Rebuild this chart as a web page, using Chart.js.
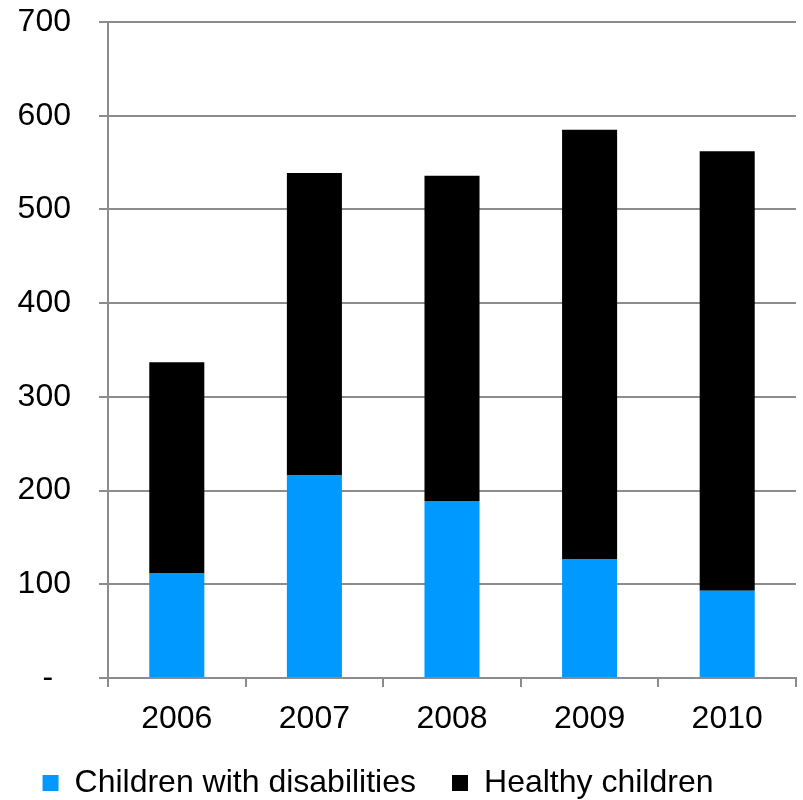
<!DOCTYPE html>
<html>
<head>
<meta charset="utf-8">
<script src="https://cdn.jsdelivr.net/npm/chart.js@4"></script>
<style>
  html, body { margin: 0; padding: 0; background: #fff; }
</style>
</head>
<body>
<canvas id="grafico" width="803" height="800"></canvas>
<script>
// Datos
const years = ['2006', '2007', '2008', '2009', '2010'];
const disabled = [112, 216, 189, 127, 93];
const healthy = [225, 323, 347, 458, 469];
const yTicks = [0, 100, 200, 300, 400, 500, 600, 700];

const gris = '#8c8c8c';
Chart.defaults.font.family = '"Liberation Sans", Arial, sans-serif';
Chart.defaults.font.size = 32;
Chart.defaults.color = '#000';

new Chart(document.getElementById('grafico'), {
    type: 'bar',
    data: {
        labels: years,
        datasets: [
            { label: 'Children with disabilities', data: disabled, backgroundColor: '#0099ff' },
            { label: 'Healthy children', data: healthy, backgroundColor: '#000000' }
        ]
    },
    options: {
        responsive: false,
        animation: false,
        categoryPercentage: 1,
        barPercentage: 0.4,
        // margen izquierdo negativo para correr la leyenda como en el original
        layout: { padding: { top: 22, right: 7, left: -40, bottom: -9 } },
        plugins: {
            legend: {
                position: 'bottom',
                labels: {
                    boxWidth: 16,
                    boxHeight: 16,
                    padding: 36,
                    font: { size: 32, lineHeight: '16px' }
                }
            },
            tooltip: { enabled: false }
        },
        scales: {
            x: {
                stacked: true,
                afterFit: axis => { axis.height = 53; },
                grid: { drawOnChartArea: false, drawTicks: true, tickLength: 9, color: gris, lineWidth: 2 },
                border: { color: gris, width: 2 },
                ticks: { padding: 13 }
            },
            y: {
                stacked: true,
                min: 0,
                max: 700,
                afterBuildTicks: axis => { axis.ticks = yTicks.map(v => ({ value: v })); },
                afterFit: axis => {
                    axis.width = 148;
                    axis.paddingTop = 0;
                    axis.paddingBottom = 0;
                },
                grid: { color: gris, lineWidth: 2, tickLength: 9 },
                border: { color: gris, width: 2 },
                ticks: {
                    padding: 28,
                    callback: v => v === 0 ? '-  ' : v
                }
            }
        }
    }
});
</script>
</body>
</html>
